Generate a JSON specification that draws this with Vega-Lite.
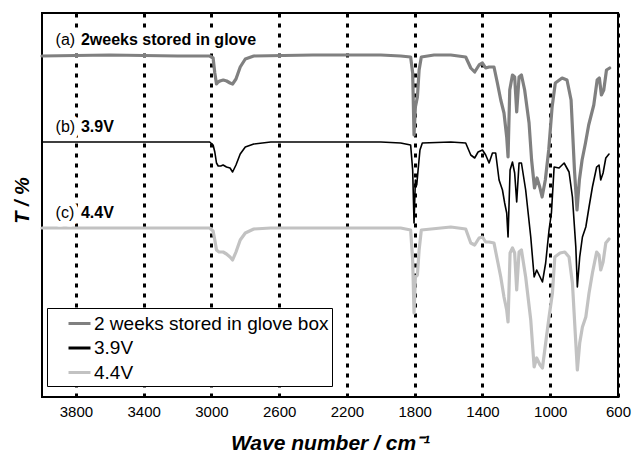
{
  "$schema": "https://vega.github.io/schema/vega-lite/v6.json",
  "width": 576,
  "height": 384,
  "autosize": {"type": "none"},
  "padding": {"left": 42, "top": 13, "right": 14, "bottom": 57},
  "background": "white",
  "config": {
    "font": "Liberation Sans",
    "view": {"stroke": "black", "strokeWidth": 2}
  },
  "datasets": {
    "spectra": [
      {"series":"2 weeks stored in glove box","x":4000,"T":341},{"series":"2 weeks stored in glove box","x":3600,"T":342},{"series":"2 weeks stored in glove box","x":3200,"T":341},{"series":"2 weeks stored in glove box","x":3010,"T":341},{"series":"2 weeks stored in glove box","x":2990,"T":339},{"series":"2 weeks stored in glove box","x":2980,"T":324},{"series":"2 weeks stored in glove box","x":2970,"T":313},{"series":"2 weeks stored in glove box","x":2960,"T":315},{"series":"2 weeks stored in glove box","x":2950,"T":316},{"series":"2 weeks stored in glove box","x":2930,"T":317},{"series":"2 weeks stored in glove box","x":2910,"T":316},{"series":"2 weeks stored in glove box","x":2890,"T":314},{"series":"2 weeks stored in glove box","x":2875,"T":313},{"series":"2 weeks stored in glove box","x":2855,"T":318},{"series":"2 weeks stored in glove box","x":2830,"T":330},{"series":"2 weeks stored in glove box","x":2800,"T":338},{"series":"2 weeks stored in glove box","x":2750,"T":341},{"series":"2 weeks stored in glove box","x":2400,"T":342},{"series":"2 weeks stored in glove box","x":2000,"T":342},{"series":"2 weeks stored in glove box","x":1883,"T":341},{"series":"2 weeks stored in glove box","x":1824,"T":340},{"series":"2 weeks stored in glove box","x":1812,"T":324},{"series":"2 weeks stored in glove box","x":1804,"T":262},{"series":"2 weeks stored in glove box","x":1796,"T":290},{"series":"2 weeks stored in glove box","x":1784,"T":300},{"series":"2 weeks stored in glove box","x":1774,"T":327},{"series":"2 weeks stored in glove box","x":1761,"T":340},{"series":"2 weeks stored in glove box","x":1686,"T":342},{"series":"2 weeks stored in glove box","x":1587,"T":342},{"series":"2 weeks stored in glove box","x":1499,"T":340},{"series":"2 weeks stored in glove box","x":1469,"T":329},{"series":"2 weeks stored in glove box","x":1446,"T":325},{"series":"2 weeks stored in glove box","x":1420,"T":332},{"series":"2 weeks stored in glove box","x":1400,"T":334},{"series":"2 weeks stored in glove box","x":1381,"T":329},{"series":"2 weeks stored in glove box","x":1361,"T":330},{"series":"2 weeks stored in glove box","x":1332,"T":330},{"series":"2 weeks stored in glove box","x":1312,"T":314},{"series":"2 weeks stored in glove box","x":1292,"T":297},{"series":"2 weeks stored in glove box","x":1273,"T":284},{"series":"2 weeks stored in glove box","x":1257,"T":260},{"series":"2 weeks stored in glove box","x":1249,"T":240},{"series":"2 weeks stored in glove box","x":1239,"T":307},{"series":"2 weeks stored in glove box","x":1223,"T":322},{"series":"2 weeks stored in glove box","x":1210,"T":320},{"series":"2 weeks stored in glove box","x":1198,"T":285},{"series":"2 weeks stored in glove box","x":1184,"T":320},{"series":"2 weeks stored in glove box","x":1170,"T":322},{"series":"2 weeks stored in glove box","x":1151,"T":307},{"series":"2 weeks stored in glove box","x":1125,"T":274},{"series":"2 weeks stored in glove box","x":1110,"T":237},{"series":"2 weeks stored in glove box","x":1093,"T":209},{"series":"2 weeks stored in glove box","x":1078,"T":219},{"series":"2 weeks stored in glove box","x":1062,"T":210},{"series":"2 weeks stored in glove box","x":1048,"T":200},{"series":"2 weeks stored in glove box","x":1029,"T":217},{"series":"2 weeks stored in glove box","x":1009,"T":247},{"series":"2 weeks stored in glove box","x":989,"T":290},{"series":"2 weeks stored in glove box","x":970,"T":314},{"series":"2 weeks stored in glove box","x":930,"T":319},{"series":"2 weeks stored in glove box","x":901,"T":317},{"series":"2 weeks stored in glove box","x":877,"T":297},{"series":"2 weeks stored in glove box","x":857,"T":227},{"series":"2 weeks stored in glove box","x":842,"T":187},{"series":"2 weeks stored in glove box","x":828,"T":217},{"series":"2 weeks stored in glove box","x":812,"T":237},{"series":"2 weeks stored in glove box","x":792,"T":254},{"series":"2 weeks stored in glove box","x":773,"T":272},{"series":"2 weeks stored in glove box","x":743,"T":292},{"series":"2 weeks stored in glove box","x":723,"T":317},{"series":"2 weeks stored in glove box","x":710,"T":319},{"series":"2 weeks stored in glove box","x":698,"T":302},{"series":"2 weeks stored in glove box","x":684,"T":307},{"series":"2 weeks stored in glove box","x":668,"T":327},{"series":"2 weeks stored in glove box","x":649,"T":329},
      {"series":"3.9V","x":4000,"T":255},{"series":"3.9V","x":3600,"T":255},{"series":"3.9V","x":3200,"T":255},{"series":"3.9V","x":3010,"T":255},{"series":"3.9V","x":2990,"T":252},{"series":"3.9V","x":2980,"T":245},{"series":"3.9V","x":2970,"T":234},{"series":"3.9V","x":2960,"T":231},{"series":"3.9V","x":2945,"T":231},{"series":"3.9V","x":2931,"T":232},{"series":"3.9V","x":2911,"T":230},{"series":"3.9V","x":2890,"T":229},{"series":"3.9V","x":2875,"T":225},{"series":"3.9V","x":2855,"T":232},{"series":"3.9V","x":2830,"T":243},{"series":"3.9V","x":2800,"T":250},{"series":"3.9V","x":2750,"T":253},{"series":"3.9V","x":2650,"T":255},{"series":"3.9V","x":2000,"T":255},{"series":"3.9V","x":1883,"T":254},{"series":"3.9V","x":1824,"T":252},{"series":"3.9V","x":1812,"T":227},{"series":"3.9V","x":1804,"T":174},{"series":"3.9V","x":1796,"T":217},{"series":"3.9V","x":1788,"T":212},{"series":"3.9V","x":1780,"T":227},{"series":"3.9V","x":1769,"T":247},{"series":"3.9V","x":1755,"T":254},{"series":"3.9V","x":1587,"T":255},{"series":"3.9V","x":1499,"T":254},{"series":"3.9V","x":1469,"T":242},{"series":"3.9V","x":1446,"T":239},{"series":"3.9V","x":1426,"T":245},{"series":"3.9V","x":1400,"T":247},{"series":"3.9V","x":1381,"T":242},{"series":"3.9V","x":1361,"T":234},{"series":"3.9V","x":1341,"T":244},{"series":"3.9V","x":1322,"T":244},{"series":"3.9V","x":1302,"T":217},{"series":"3.9V","x":1282,"T":207},{"series":"3.9V","x":1269,"T":194},{"series":"3.9V","x":1257,"T":184},{"series":"3.9V","x":1249,"T":160},{"series":"3.9V","x":1237,"T":227},{"series":"3.9V","x":1223,"T":235},{"series":"3.9V","x":1210,"T":224},{"series":"3.9V","x":1198,"T":195},{"series":"3.9V","x":1184,"T":234},{"series":"3.9V","x":1170,"T":234},{"series":"3.9V","x":1145,"T":207},{"series":"3.9V","x":1115,"T":160},{"series":"3.9V","x":1095,"T":120},{"series":"3.9V","x":1080,"T":127},{"series":"3.9V","x":1060,"T":120},{"series":"3.9V","x":1046,"T":115},{"series":"3.9V","x":1027,"T":134},{"series":"3.9V","x":1007,"T":167},{"series":"3.9V","x":993,"T":184},{"series":"3.9V","x":977,"T":230},{"series":"3.9V","x":948,"T":229},{"series":"3.9V","x":918,"T":234},{"series":"3.9V","x":889,"T":225},{"series":"3.9V","x":869,"T":200},{"series":"3.9V","x":849,"T":150},{"series":"3.9V","x":840,"T":110},{"series":"3.9V","x":826,"T":140},{"series":"3.9V","x":810,"T":160},{"series":"3.9V","x":790,"T":170},{"series":"3.9V","x":771,"T":190},{"series":"3.9V","x":751,"T":210},{"series":"3.9V","x":726,"T":230},{"series":"3.9V","x":712,"T":232},{"series":"3.9V","x":702,"T":217},{"series":"3.9V","x":688,"T":224},{"series":"3.9V","x":672,"T":239},{"series":"3.9V","x":653,"T":243},
      {"series":"4.4V","x":4000,"T":169},{"series":"4.4V","x":3600,"T":169},{"series":"4.4V","x":3200,"T":169},{"series":"4.4V","x":3010,"T":169},{"series":"4.4V","x":2990,"T":166},{"series":"4.4V","x":2980,"T":157},{"series":"4.4V","x":2970,"T":147},{"series":"4.4V","x":2955,"T":145},{"series":"4.4V","x":2931,"T":145},{"series":"4.4V","x":2911,"T":143},{"series":"4.4V","x":2890,"T":140},{"series":"4.4V","x":2875,"T":137},{"series":"4.4V","x":2855,"T":145},{"series":"4.4V","x":2830,"T":157},{"series":"4.4V","x":2800,"T":164},{"series":"4.4V","x":2750,"T":168},{"series":"4.4V","x":2650,"T":169},{"series":"4.4V","x":2000,"T":169},{"series":"4.4V","x":1883,"T":169},{"series":"4.4V","x":1824,"T":167},{"series":"4.4V","x":1812,"T":137},{"series":"4.4V","x":1804,"T":84},{"series":"4.4V","x":1796,"T":120},{"series":"4.4V","x":1784,"T":122},{"series":"4.4V","x":1774,"T":147},{"series":"4.4V","x":1761,"T":167},{"series":"4.4V","x":1587,"T":170},{"series":"4.4V","x":1499,"T":168},{"series":"4.4V","x":1469,"T":154},{"series":"4.4V","x":1446,"T":152},{"series":"4.4V","x":1420,"T":159},{"series":"4.4V","x":1400,"T":160},{"series":"4.4V","x":1381,"T":155},{"series":"4.4V","x":1361,"T":155},{"series":"4.4V","x":1332,"T":154},{"series":"4.4V","x":1312,"T":137},{"series":"4.4V","x":1292,"T":120},{"series":"4.4V","x":1273,"T":100},{"series":"4.4V","x":1257,"T":87},{"series":"4.4V","x":1249,"T":75},{"series":"4.4V","x":1237,"T":144},{"series":"4.4V","x":1223,"T":149},{"series":"4.4V","x":1210,"T":144},{"series":"4.4V","x":1198,"T":107},{"series":"4.4V","x":1184,"T":145},{"series":"4.4V","x":1170,"T":147},{"series":"4.4V","x":1145,"T":120},{"series":"4.4V","x":1115,"T":77},{"series":"4.4V","x":1095,"T":30},{"series":"4.4V","x":1080,"T":39},{"series":"4.4V","x":1060,"T":32},{"series":"4.4V","x":1046,"T":29},{"series":"4.4V","x":1027,"T":54},{"series":"4.4V","x":1007,"T":80},{"series":"4.4V","x":987,"T":104},{"series":"4.4V","x":973,"T":140},{"series":"4.4V","x":942,"T":144},{"series":"4.4V","x":914,"T":145},{"series":"4.4V","x":889,"T":140},{"series":"4.4V","x":869,"T":114},{"series":"4.4V","x":849,"T":54},{"series":"4.4V","x":840,"T":27},{"series":"4.4V","x":826,"T":54},{"series":"4.4V","x":810,"T":70},{"series":"4.4V","x":790,"T":80},{"series":"4.4V","x":771,"T":104},{"series":"4.4V","x":751,"T":124},{"series":"4.4V","x":726,"T":145},{"series":"4.4V","x":712,"T":142},{"series":"4.4V","x":702,"T":127},{"series":"4.4V","x":688,"T":135},{"series":"4.4V","x":672,"T":154},{"series":"4.4V","x":653,"T":158}
    ],
    "tags": [
      {"x":3920,"T":357,"label":"(a)"},
      {"x":3920,"T":270,"label":"(b)"},
      {"x":3920,"T":184,"label":"(c)"}
    ],
    "names": [
      {"x":3770,"T":357,"label":"2weeks stored in glove"},
      {"x":3770,"T":270,"label":"3.9V"},
      {"x":3770,"T":184,"label":"4.4V"}
    ]
  },
  "layer": [
    {
      "data": {"name": "spectra"},
      "mark": {"type": "line", "strokeJoin": "round", "strokeCap": "round"},
      "encoding": {
        "x": {
          "field": "x", "type": "quantitative",
          "scale": {"domain": [600, 4000], "reverse": true, "nice": false, "zero": false},
          "axis": {
            "values": [3800, 3400, 3000, 2600, 2200, 1800, 1400, 1000, 600],
            "format": "d",
            "grid": true, "gridColor": "black", "gridWidth": 3, "gridDash": [4, 6], "gridOpacity": 1,
            "ticks": false, "domain": false,
            "labelFontSize": 15, "labelColor": "black", "labelPadding": 7, "labelFlush": false,
            "title": "Wave number / cm⁻¹", "titleFontSize": 21, "titleFontWeight": "bold", "titleFontStyle": "italic",
            "titleColor": "black", "titleY": 46, "titleBaseline": "middle",
            "zindex": 0
          }
        },
        "y": {
          "field": "T", "type": "quantitative",
          "scale": {"domain": [0, 384], "nice": false, "zero": false},
          "axis": {
            "labels": false, "ticks": false, "domain": false, "grid": false,
            "title": "T / %", "titleFontSize": 20, "titleFontWeight": "bold", "titleFontStyle": "italic",
            "titleColor": "black", "titleX": -20, "titleY": 187, "titleBaseline": "middle", "titleAlign": "center", "titleAngle": -90
          }
        },
        "color": {
          "field": "series", "type": "nominal",
          "scale": {"domain": ["2 weeks stored in glove box", "3.9V", "4.4V"], "range": ["#808080", "#000000", "#c2c2c2"]},
          "legend": {
            "orient": "none", "legendX": 5, "legendY": 295, "title": null,
            "strokeColor": "black", "fillColor": "white", "padding": 3,
            "symbolType": "stroke", "symbolSize": 484, "symbolStrokeWidth": 3, "symbolOffset": 17,
            "labelFontSize": 19, "labelColor": "black", "labelOffset": 2, "rowPadding": 1.5, "labelLimit": 400,
            "zindex": 2
          }
        },
        "strokeWidth": {
          "condition": {"test": "datum.series === '3.9V'", "value": 1.6},
          "value": 3.2
        }
      }
    },
    {
      "data": {"name": "tags"},
      "mark": {"type": "text", "align": "left", "baseline": "middle", "fontSize": 16, "fill": "white", "stroke": "white", "strokeWidth": 11, "strokeJoin": "round"},
      "encoding": {
        "x": {"field": "x", "type": "quantitative"},
        "y": {"field": "T", "type": "quantitative"},
        "text": {"field": "label"}
      }
    },
    {
      "data": {"name": "names"},
      "mark": {"type": "text", "align": "left", "baseline": "middle", "fontSize": 16, "fontWeight": "bold", "fill": "white", "stroke": "white", "strokeWidth": 11, "strokeJoin": "round"},
      "encoding": {
        "x": {"field": "x", "type": "quantitative"},
        "y": {"field": "T", "type": "quantitative"},
        "text": {"field": "label"}
      }
    },
    {
      "data": {"name": "tags"},
      "mark": {"type": "text", "align": "left", "baseline": "middle", "fontSize": 16, "color": "black"},
      "encoding": {
        "x": {"field": "x", "type": "quantitative"},
        "y": {"field": "T", "type": "quantitative"},
        "text": {"field": "label"}
      }
    },
    {
      "data": {"name": "names"},
      "mark": {"type": "text", "align": "left", "baseline": "middle", "fontSize": 16, "fontWeight": "bold", "color": "black"},
      "encoding": {
        "x": {"field": "x", "type": "quantitative"},
        "y": {"field": "T", "type": "quantitative"},
        "text": {"field": "label"}
      }
    }
  ]
}
